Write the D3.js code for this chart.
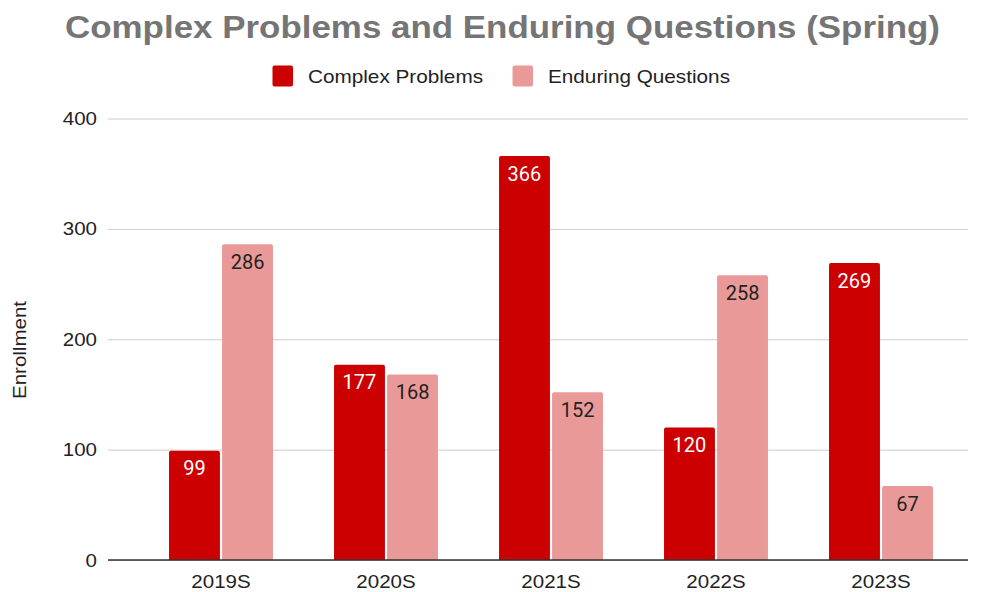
<!DOCTYPE html>
<html><head><meta charset="utf-8">
<script src="https://cdn.jsdelivr.net/npm/d3@7"></script>
<style>body{margin:0;background:#fff}svg{display:block}</style>
</head><body><svg id="c" width="984" height="592"></svg>
<script>
const categories = ["2019S","2020S","2021S","2022S","2023S"];
const seriesNames = ["Complex Problems","Enduring Questions"];
const complexProblems = [99,177,366,120,269];
const enduringQuestions = [286,168,152,258,67];
const yTicks = [0,100,200,300,400];
const colors = ["#cc0000","#ea9999"];
const labelColors = ["#ffffff","#222222"];
const FONT = "Liberation Sans, Arial, sans-serif";

const svg = d3.select("#c");
const x0 = d3.scaleBand().domain(categories).range([138.5,963.5]).paddingInner(0.37).paddingOuter(0.185);
const x1 = d3.scaleBand().domain(seriesNames).range([0,x0.bandwidth()]).paddingInner(0.04);
const y = d3.scaleLinear().domain([0,400]).range([560,118.5]);

// title
svg.append("text").attr("x",65).attr("y",38)
  .attr("font-family",FONT).attr("font-weight","bold")
  .attr("font-size",32).attr("fill","#757575")
  .attr("textLength",875).attr("lengthAdjust","spacingAndGlyphs")
  .text("Complex Problems and Enduring Questions (Spring)");

// legend
const legX = [272.5,512.5];
const legW = [175,182];
seriesNames.forEach((s,i)=>{
  svg.append("rect").attr("x",legX[i]).attr("y",65.5).attr("width",20.5).attr("height",21).attr("rx",2).attr("fill",colors[i]);
  svg.append("text").attr("x",legX[i]+35.5).attr("y",83).attr("font-family",FONT)
    .attr("font-size",19).attr("fill","#222")
    .attr("textLength",legW[i]).attr("lengthAdjust","spacingAndGlyphs").text(s);
});

// grid + y axis
const yAxis = d3.axisLeft(y).tickValues(yTicks).tickSize(-(968-108)).tickPadding(11);
const ga = svg.append("g").attr("transform","translate(108,0)").call(yAxis);
ga.select(".domain").remove();
ga.selectAll(".tick line").attr("stroke","#cccccc").attr("stroke-width",1);
ga.selectAll(".tick text").attr("font-family",FONT).attr("font-size",19).attr("fill","#222")
  .attr("transform","scale(1.08,1)").attr("x",-11/1.08);

svg.append("text").attr("transform","translate(26,350) rotate(-90)").attr("text-anchor","middle")
  .attr("font-family",FONT).attr("font-size",19).attr("fill","#222")
  .attr("textLength",98).attr("lengthAdjust","spacingAndGlyphs").text("Enrollment");

const data = [complexProblems, enduringQuestions];
const groups = svg.selectAll("g.cat").data(categories).join("g").attr("class","cat")
  .attr("transform",d=>`translate(${x0(d)},0)`);
seriesNames.forEach((s,si)=>{
  groups.append("path").attr("fill",colors[si]).attr("d",(d,i)=>{
    const xx = x1(s), w = x1.bandwidth(), top = y(data[si][i]), bot = y(0), r=2;
    return `M${xx},${bot}V${top+r}Q${xx},${top} ${xx+r},${top}H${xx+w-r}Q${xx+w},${top} ${xx+w},${top+r}V${bot}Z`;
  });
  groups.append("text").attr("x",x1(s)+x1.bandwidth()/2).attr("y",(d,i)=>y(data[si][i])+24.5)
    .attr("text-anchor","middle").attr("font-family","Roboto, sans-serif").attr("font-size",20)
    .attr("fill",labelColors[si]).text((d,i)=>data[si][i]);
});

// baseline on top
svg.append("line").attr("x1",108).attr("x2",968).attr("y1",y(0)).attr("y2",y(0)).attr("stroke","#333").attr("stroke-width",1.5);

// x axis labels
svg.append("g").selectAll("text").data(categories).join("text")
  .attr("transform",d=>`translate(${x0(d)+x0.bandwidth()/2},588) scale(1.08,1)`).attr("text-anchor","middle")
  .attr("font-family",FONT).attr("font-size",19).attr("fill","#222").text(d=>d);
</script></body></html>
